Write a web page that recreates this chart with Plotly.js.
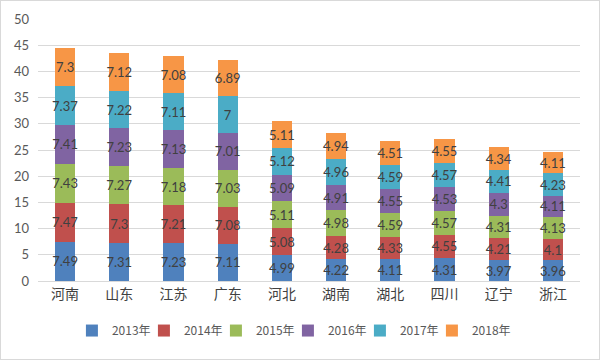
<!DOCTYPE html>
<html><head><meta charset="utf-8">
<script src="https://cdn.plot.ly/plotly-3.0.1.min.js"></script>
<style>html,body{margin:0;padding:0;background:#fff;}#c{width:598px;height:358px;border:1px solid #d9d9d9;}</style>
</head><body><div id="c"></div>
<script>
const provinces = ['河南','山东','江苏','广东','河北','湖南','湖北','四川','辽宁','浙江'];
const seriesNames = ['2013年','2014年','2015年','2016年','2017年','2018年'];
const v2013 = [7.49,7.31,7.23,7.11,4.99,4.22,4.11,4.31,3.97,3.96];
const v2014 = [7.47,7.3,7.21,7.08,5.08,4.28,4.33,4.55,4.21,4.1];
const v2015 = [7.43,7.27,7.18,7.03,5.11,4.98,4.59,4.57,4.31,4.13];
const v2016 = [7.41,7.23,7.13,7.01,5.09,4.91,4.55,4.53,4.3,4.11];
const v2017 = [7.37,7.22,7.11,7,5.12,4.96,4.59,4.57,4.41,4.23];
const v2018 = [7.3,7.12,7.08,6.89,5.11,4.94,4.51,4.55,4.34,4.11];
const yTicks = [0,5,10,15,20,25,30,35,40,45,50];
const colors = ['#4F81BD','#C0504D','#9BBB59','#8064A2','#4BACC6','#F79646'];
const allVals = [v2013,v2014,v2015,v2016,v2017,v2018];
const fontFam = "Lato, 'Noto Sans CJK SC', sans-serif";
const traces = allVals.map((vals,i)=>({
  type:'bar', name:seriesNames[i], x:provinces, y:vals,
  text: vals.map(v=>String(v)), textposition:'inside', insidetextanchor:'middle',
  constraintext:'none', textangle:0,
  textfont:{color:'#404040', size:13, family:fontFam},
  marker:{color:colors[i]}, hoverinfo:'none'
}));
// invisible spacer legend entry so the last legend label is not clipped
traces.push({type:'bar', name:' ', x:[provinces[0]], y:[0], marker:{color:'rgba(0,0,0,0)', line:{width:0}}, hoverinfo:'none', showlegend:true});
const layout = {
  width:598, height:358, barmode:'stack', bargap:0.63,
  margin:{l:37, r:19, t:18, b:78},
  paper_bgcolor:'#fff', plot_bgcolor:'#fff',
  font:{family:fontFam, color:'#595959', size:13},
  xaxis:{showgrid:false, showline:true, linecolor:'#d9d9d9', ticks:'', tickfont:{size:14, color:'#404040', family:"'Noto Sans CJK SC', sans-serif"}},
  yaxis:{range:[0,50], tickvals:yTicks, showgrid:true, gridcolor:'#d9d9d9', zeroline:false, showline:false, ticks:'', tickfont:{size:13, color:'#595959'}, ticklabelstandoff:8},
  legend:{orientation:'h', x:0.54, xanchor:'center', xref:'container', yref:'container', y:0.12, yanchor:'top', font:{size:12, color:'#595959', family:"'Noto Sans CJK SC', sans-serif"}, itemwidth:30, entrywidth:27, entrywidthmode:'pixels', traceorder:'normal'},
  showlegend:true
};
Plotly.newPlot('c', traces, layout, {staticPlot:true});
</script></body></html>
